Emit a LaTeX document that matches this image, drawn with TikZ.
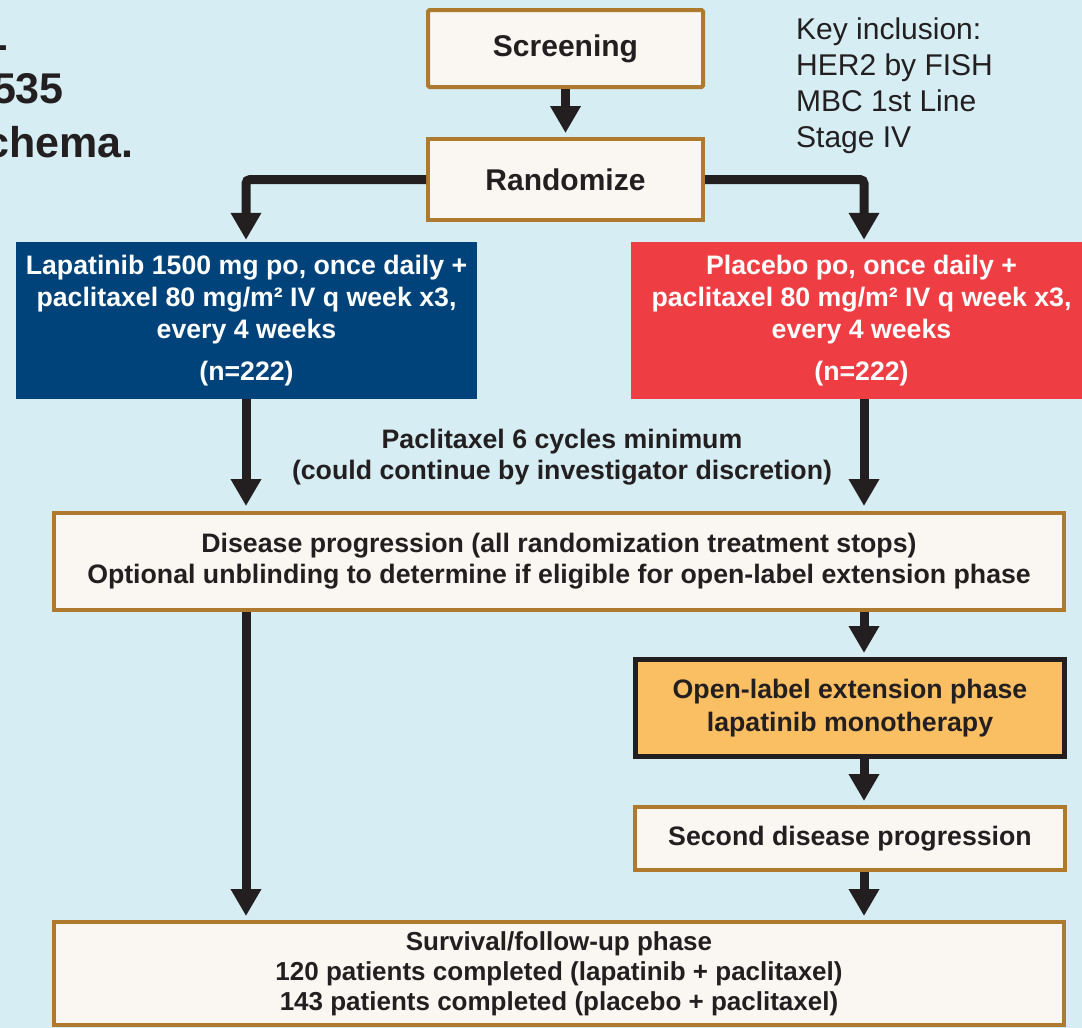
\documentclass[tikz,border=0pt]{standalone}
\usepackage{fontspec}
\setmainfont{Liberation Sans}
\usetikzlibrary{arrows.meta}
\definecolor{bgc}{HTML}{D5EDF3}
\definecolor{boxfill}{HTML}{FAF6F1}
\definecolor{brownb}{HTML}{B07A2E}
\definecolor{navyb}{HTML}{00437A}
\definecolor{redb}{HTML}{EE3D43}
\definecolor{orangeb}{HTML}{FBBF63}
\definecolor{inkc}{HTML}{231F20}
\tikzset{
  txtbase/.style={inner sep=0pt, align=center, text=inkc, font=\bfseries\fontsize{26.7}{32}\selectfont},
  plainbox/.style={txtbase, draw=brownb, line width=4pt, fill=boxfill},
  armbox/.style={txtbase, text=white, font=\bfseries\fontsize{26.7}{32}\selectfont},
  arr/.style={draw=inkc, line width=9pt, -{Triangle[width=29pt,length=27pt]}},
}
\begin{document}
\begin{tikzpicture}[x=1pt,y=-1pt]
\useasboundingbox (0,0) rectangle (1082,1028);
\clip (0,0) rectangle (1082,1028);
\fill[bgc] (0,0) rectangle (1082,1028);

% cut-off title fragments
\node[anchor=base east, inner sep=0pt, text=inkc, font=\bfseries\fontsize{43}{50}\selectfont] (t1) at (8,50) {L};
\node[anchor=base east, inner sep=0pt, text=inkc, font=\bfseries\fontsize{43}{50}\selectfont] (t2) at (64,103) {535};
\node[anchor=base east, inner sep=0pt, text=inkc, font=\bfseries\fontsize{43}{50}\selectfont] (t3) at (134,157) {chema.};

% key inclusion
\node[anchor=north west, inner sep=0pt, align=left, text=inkc, font=\fontsize{30}{36}\selectfont] (key) at (796,18)
  {Key inclusion:\\HER2 by FISH\\MBC 1st Line\\Stage IV};

% column coordinates
\coordinate (L) at (246,0);
\coordinate (R) at (864,0);

% boxes
\node[plainbox, rounded corners=1.5pt, minimum width=275pt, minimum height=77pt, font=\bfseries\fontsize{30}{36}\selectfont] (scr) at (565.5,48.5) {\raisebox{-2pt}{Screening}};
\node[plainbox, minimum width=275pt, minimum height=81pt, font=\bfseries\fontsize{30}{36}\selectfont] (rnd) at (565.5,179.5) {Randomize};

\node[armbox, fill=navyb, minimum width=461pt, minimum height=157pt] (lap) at (246.5,320.5)
  {Lapatinib 1500 mg po, once daily +\\paclitaxel 80 mg/m² IV q week x3,\\every 4 weeks\\[10pt](n=222)};
\node[armbox, fill=redb, minimum width=461pt, minimum height=157pt] (pla) at (861.5,320.5)
  {Placebo po, once daily +\\paclitaxel 80 mg/m² IV q week x3,\\every 4 weeks\\[10pt](n=222)};

\node[txtbase, font=\bfseries\fontsize{26.7}{31}\selectfont] (lbl) at (562,457)
  {Paclitaxel 6 cycles minimum\\(could continue by investigator discretion)};

\node[plainbox, minimum width=1010pt, minimum height=97pt, font=\bfseries\fontsize{26.7}{31}\selectfont] (dis) at (559,561.5)
  {Disease progression (all randomization treatment stops)\\Optional unblinding to determine if eligible for open-label extension phase};

\node[txtbase, draw=inkc, line width=5pt, fill=orangeb, minimum width=429pt, minimum height=97pt, font=\bfseries\fontsize{26.7}{33}\selectfont] (ole) at (850,708)
  {Open-label extension phase\\lapatinib monotherapy};

\node[plainbox, minimum width=430pt, minimum height=63pt] (sdp) at (850,838.5)
  {Second disease progression};

\node[plainbox, minimum width=1010pt, minimum height=103pt, font=\bfseries\fontsize{26}{30}\selectfont] (srv) at (559,973.5)
  {Survival/follow-up phase\\120 patients completed (lapatinib + paclitaxel)\\143 patients completed (placebo + paclitaxel)};

% connectors
\draw[arr, shorten >=4pt] (scr.south) -- (rnd.north);
\draw[arr, rounded corners=4pt, shorten >=2pt] (rnd.west) -| (lap.north -| L);
\draw[arr, rounded corners=4pt, shorten >=2pt] (rnd.east) -| (pla.north -| R);
\draw[arr, shorten >=5pt] (lap.south -| L) -- (dis.north -| L);
\draw[arr, shorten >=5pt] (pla.south -| R) -- (dis.north -| R);
\draw[arr, shorten >=4pt] (dis.south -| L) -- (srv.north -| L);
\draw[arr, shorten >=4pt] (dis.south -| R) -- (ole.north -| R);
\draw[arr, shorten >=4pt] (ole.south -| R) -- (sdp.north -| R);
\draw[arr, shorten >=4pt] (sdp.south -| R) -- (srv.north -| R);
\end{tikzpicture}
\end{document}
